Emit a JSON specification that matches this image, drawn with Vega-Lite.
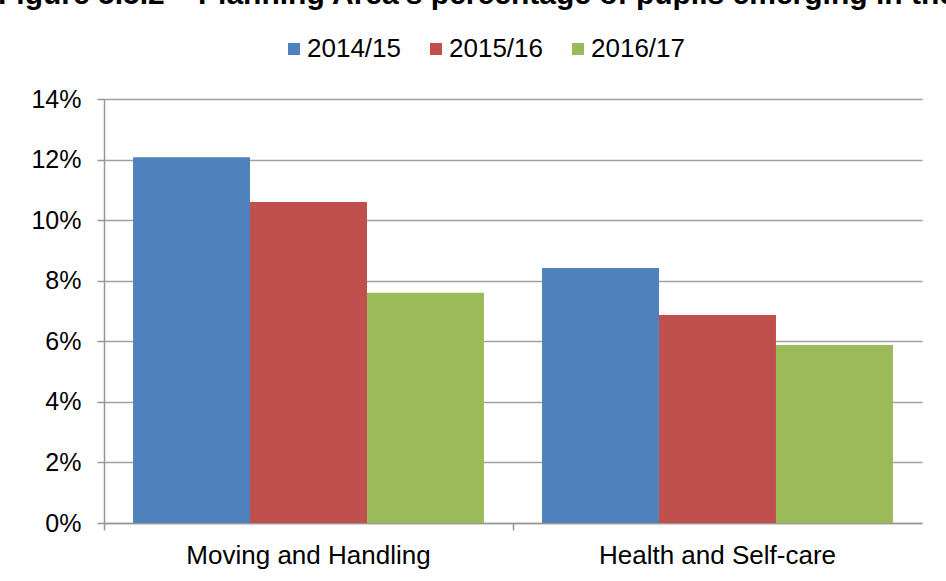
{
  "$schema": "https://vega.github.io/schema/vega-lite/v6.json",
  "autosize": "none",
  "width": 818,
  "height": 424,
  "padding": {"left": 104, "top": 99, "right": 24, "bottom": 58},
  "background": "white",
  "title": {
    "text": "Figure 5.5.2 \u2013 Planning Area's percentage of pupils emerging in the",
    "frame": "group",
    "anchor": "start",
    "orient": "top",
    "baseline": "alphabetic",
    "font": "Liberation Sans",
    "fontSize": 30,
    "fontWeight": "bold",
    "color": "#000000",
    "offset": 24,
    "dx": -106,
    "dy": 22
  },
  "data": {
    "values": [
      {"area": "Moving and Handling", "year": "2014/15", "pct": 0.1208},
      {"area": "Moving and Handling", "year": "2015/16", "pct": 0.106},
      {"area": "Moving and Handling", "year": "2016/17", "pct": 0.076},
      {"area": "Health and Self-care", "year": "2014/15", "pct": 0.0842},
      {"area": "Health and Self-care", "year": "2015/16", "pct": 0.0687},
      {"area": "Health and Self-care", "year": "2016/17", "pct": 0.0588}
    ]
  },
  "mark": {"type": "bar"},
  "encoding": {
    "x": {
      "field": "area",
      "type": "nominal",
      "sort": ["Moving and Handling", "Health and Self-care"],
      "scale": {"paddingInner": 0.142, "paddingOuter": 0.071},
      "axis": {
        "title": null,
        "labelAngle": 0,
        "labelLimit": 0,
        "labelFont": "Liberation Sans",
        "labelFontSize": 26,
        "labelColor": "#000000",
        "labelPadding": 12,
        "domainColor": "#969696",
        "domainWidth": 1.5,
        "tickColor": "#969696",
        "tickWidth": 1.5,
        "tickSize": 7,
        "bandPosition": -0.0826,
        "grid": false
      }
    },
    "xOffset": {
      "field": "year",
      "type": "nominal",
      "scale": {"paddingInner": 0, "paddingOuter": 0}
    },
    "y": {
      "field": "pct",
      "type": "quantitative",
      "scale": {"domain": [0, 0.14]},
      "axis": {
        "title": null,
        "format": ".0%",
        "values": [0, 0.02, 0.04, 0.06, 0.08, 0.1, 0.12, 0.14],
        "labelFont": "Liberation Sans",
        "labelFontSize": 25,
        "labelColor": "#000000",
        "labelPadding": 16,
        "domainColor": "#969696",
        "domainWidth": 1.5,
        "tickColor": "#969696",
        "tickWidth": 1.5,
        "tickSize": 7,
        "grid": true,
        "gridColor": "#a0a0a0",
        "gridWidth": 1.5
      }
    },
    "color": {
      "field": "year",
      "type": "nominal",
      "scale": {
        "domain": ["2014/15", "2015/16", "2016/17"],
        "range": ["#4F81BD", "#C0504D", "#9BBB59"]
      },
      "legend": {
        "title": null,
        "orient": "none",
        "direction": "horizontal",
        "legendX": 177,
        "legendY": -63,
        "symbolType": "square",
        "symbolSize": 144,
        "symbolStrokeWidth": 0,
        "labelFont": "Liberation Sans",
        "labelFontSize": 26,
        "labelColor": "#000000",
        "labelOffset": 0,
        "columnPadding": 22,
        "padding": 0
      }
    }
  },
  "config": {
    "view": {"stroke": null}
  }
}
